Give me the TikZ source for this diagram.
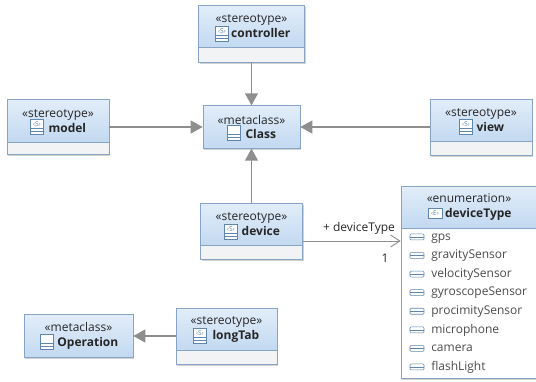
\documentclass[tikz,border=0pt]{standalone}
\usepackage{fontspec}
\setmainfont{Open Sans}
\usetikzlibrary{arrows.meta, calc, shadows}
\definecolor{boxline}{HTML}{88A4C4}
\definecolor{headtop}{HTML}{E2EDF9}
\definecolor{headbot}{HTML}{C2D9F1}
\definecolor{compart}{HTML}{F1F3F5}
\definecolor{iconline}{HTML}{5F86AE}
\definecolor{linkgray}{HTML}{8E8E8E}
\newcommand{\iconspace}{\hspace*{14pt}}

\begin{document}
\begin{tikzpicture}[x = 0.75pt, y = -0.75pt, font = \fontsize{9}{11}\selectfont, text = black!85]

\tikzset{
umlbody/.style = {rectangle, draw = boxline, fill = compart, inner sep = 0pt, 
	drop shadow = {shadow xshift = 1pt, shadow yshift = -1.2pt, fill = black!35}},
umlhead/.style = {rectangle, draw = boxline, top color = headtop, bottom color = headbot, 
	inner sep = 0pt, align = center, minimum height = 32pt},
literal/.style = {anchor = west, inner sep = 0pt, text height = 6.8pt, text depth = 2pt, text = black!70},
extension/.style = {-{Triangle[length = 9pt, width = 9.5pt]}, draw = linkgray, line width = 1.4pt},
association/.style = {-{Straight Barb[length = 7pt, width = 9pt]}, draw = linkgray, line width = 0.7pt},
pics/stereoicon/.style = {code = {
	\draw [iconline, fill = white] (-6.5, -7.5) rectangle (6.5, 7.5);
	\draw [iconline] (-6.5, 1.5) -- (6.5, 1.5) (-6.5, 4.5) -- (6.5, 4.5);
	\node (-letter) at (0, -3) [inner sep = 0pt, text = iconline, font = \fontsize{5}{5}\selectfont] {‹#1›};
	}},
pics/classicon/.style = {code = {
	\draw [iconline, fill = white] (-6.5, -7.5) rectangle (6.5, 7.5);
	\draw [iconline] (-6.5, 1.5) -- (6.5, 1.5) (-6.5, 4.5) -- (6.5, 4.5);
	}},
pics/enumicon/.style = {code = {
	\draw [iconline, fill = white] (-7, -5) rectangle (7, 5);
	\node (-letter) at (0, 0) [inner sep = 0pt, text = iconline, font = \fontsize{5}{5}\selectfont] {‹#1›};
	}},
pics/literalicon/.style = {code = {
	\draw [iconline, fill = white, rounded corners = 0.8pt] (-7, -3) rectangle (7, 3);
	\draw [iconline] (-7, 0) -- (7, 0);
	}},
	}

\useasboundingbox (0, 0) rectangle (536, 382);

%% Stereotypes
\node at (251.5, 33.5) [umlbody, minimum width = 79.5pt, minimum height = 42.75pt] (controller) {};
\node at (controller.north) [umlhead, anchor = north, minimum width = 79.5pt] (controllerHead) {«stereotype»\\\iconspace{}\textbf{controller}};
\pic (controllerIcon) at (222, 34) {stereoicon = S};

\node at (58, 127) [umlbody, minimum width = 76.5pt, minimum height = 41.25pt] (model) {};
\node at (model.north) [umlhead, anchor = north, minimum width = 76.5pt] (modelHead) {«stereotype»\\\iconspace{}\textbf{model}};
\pic (modelIcon) at (37, 127) {stereoicon = S};

\node at (481, 127) [umlbody, minimum width = 76.5pt, minimum height = 42pt] (view) {};
\node at (view.north) [umlhead, anchor = north, minimum width = 76.5pt] (viewHead) {«stereotype»\\\iconspace{}\textbf{view}};
\pic (viewIcon) at (466, 127) {stereoicon = S};

\node at (251.5, 231) [umlbody, minimum width = 76.5pt, minimum height = 42pt] (device) {};
\node at (device.north) [umlhead, anchor = north, minimum width = 76.5pt] (deviceHead) {«stereotype»\\\iconspace{}\textbf{device}};
\pic (deviceIcon) at (231, 232) {stereoicon = S};

\node at (226.5, 336) [umlbody, minimum width = 75.75pt, minimum height = 42pt] (longTab) {};
\node at (longTab.north) [umlhead, anchor = north, minimum width = 75.75pt] (longTabHead) {«stereotype»\\\iconspace{}\textbf{longTab}};
\pic (longTabIcon) at (200, 336) {stereoicon = S};

%% Metaclasses
\node at (251.5, 127) [umlhead, minimum width = 72.75pt, drop shadow = {shadow xshift = 1pt, shadow yshift = -1.2pt, fill = black!35}] (Class) {«metaclass»\\\iconspace{}\textbf{Class}};
\pic (ClassIcon) at (234, 133) {classicon};

\node at (78.5, 336) [umlhead, minimum width = 81.75pt, drop shadow = {shadow xshift = 1pt, shadow yshift = -1.2pt, fill = black!35}] (Operation) {«metaclass»\\\iconspace{}\textbf{Operation}};
\pic (OperationIcon) at (47, 342) {classicon};

%% Enumeration
\node at (469, 282) [umlbody, fill = white, minimum width = 102pt, minimum height = 144pt] (deviceType) {};
\node at (deviceType.north) [umlhead, anchor = north, minimum width = 102pt] (deviceTypeHead) {«enumeration»\\\iconspace{}\textbf{deviceType}};
\pic (deviceTypeIcon) at (435, 213) {enumicon = E};

% Literals
\foreach \lit [count = \i] in {gps, gravitySensor, velocitySensor, gyroscopeSensor, procimitySensor, microphone, camera, flashLight} {
	\pic (literalIcon\i) at (417, 218.4 + 18.57*\i) {literalicon};
	\node at (431, 218.4 + 18.57*\i) [literal] (literal\i) {\lit};
}

%% The links
\draw [extension] (controller) -- (Class);
\draw [extension] (device) -- (Class);
\draw [extension] (model) -- (Class);
\draw [extension] (view) -- (Class);
\draw [extension] (longTab) -- (Operation);

% Device to its type
\coordinate (deviceOut) at ($(device.east) + (0, 10)$);
\draw [association] (deviceOut) -- (deviceOut -| deviceType.west);
\node at (359, 228) [inner sep = 0pt] (deviceTypeRole) {+ deviceType};
\node at (385, 258) [inner sep = 0pt] (deviceTypeMult) {1};

\end{tikzpicture}
\end{document}
